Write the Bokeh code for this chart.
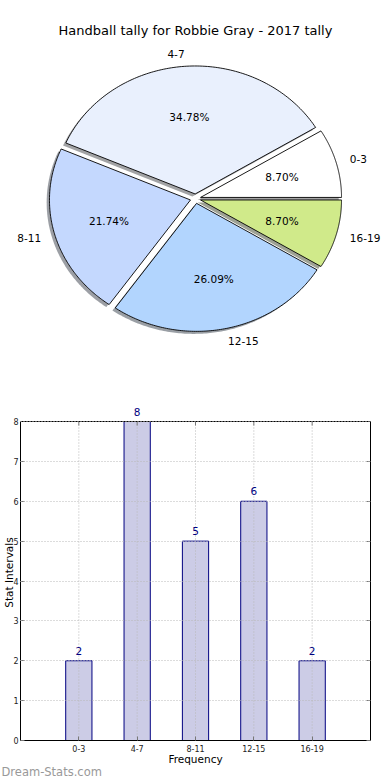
import numpy as np
from bokeh.plotting import figure
from bokeh.models import Range1d, Label, ColumnDataSource, FixedTicker, LinearAxis, Span, Title
from bokeh.embed import file_html
from bokeh.resources import INLINE
from bokeh.core.properties import value

# ---------------- data ----------------
chart_title = "Handball tally for Robbie Gray - 2017 tally"
categories = ["0-3", "4-7", "8-11", "12-15", "16-19"]
counts = [2, 8, 5, 6, 2]
slice_colors = ["#ffffff", "#e9f0fd", "#c4d8fe", "#b2d5fe", "#d0ea8a"]
x_label = "Frequency"
y_label = "Stat Intervals"
watermark = "Dream-Stats.com"
y_ticks = list(range(0, 9))

FONT = "DejaVu Sans"

# ---------------- pie ----------------
W1, H1 = 390, 390
RX, RY = 141.0, 128.0          # px per unit radius (non-equal aspect -> ellipse)
CX, CY = 195.0, 198.2          # pie centre in canvas px from top-left
EXPLODE = 0.037
SHADOW = -0.02

pie = figure(width=W1, height=H1, output_backend="svg", toolbar_location=None,
             title=None, x_axis_type=None, y_axis_type=None,
             x_range=Range1d(-CX / RX, (W1 - CX) / RX),
             y_range=Range1d(-(H1 - CY) / RY, CY / RY),
             min_border=0)
pie.grid.visible = False
pie.outline_line_color = None

total = float(sum(counts))
fracs = np.array(counts, dtype=float) / total
ends = np.cumsum(fracs) * 2 * np.pi
starts = ends - fracs * 2 * np.pi
mids = (starts + ends) / 2

wx, wy, sx, sy, shadow_cols = [], [], [], [], []
for s, e, m, col in zip(starts, ends, mids, slice_colors):
    ox, oy = EXPLODE * np.cos(m), EXPLODE * np.sin(m)
    t = np.linspace(s, e, 120)
    px = np.concatenate([[ox], ox + np.cos(t)])
    py = np.concatenate([[oy], oy + np.sin(t)])
    wx.append(px.tolist())
    wy.append(py.tolist())
    sx.append((px + SHADOW).tolist())
    sy.append((py + SHADOW).tolist())
    h = col.lstrip("#")
    rgb = [int(h[i:i + 2], 16) for i in (0, 2, 4)]
    shadow_cols.append("#%02x%02x%02x" % tuple(int(0.3 * c) for c in rgb))

pie.patches(xs=sx, ys=sy, fill_color=shadow_cols, fill_alpha=0.5, line_color=None)
pie.patches(xs=wx, ys=wy, fill_color=slice_colors, line_color="black", line_width=0.9)

lab_x, lab_y, lab_align = [], [], []
pct_x, pct_y, pct_txt = [], [], []
for m, c in zip(mids, counts):
    ox, oy = EXPLODE * np.cos(m), EXPLODE * np.sin(m)
    lab_x.append(ox + 1.1 * np.cos(m))
    lab_y.append(oy + 1.1 * np.sin(m))
    lab_align.append("left" if np.cos(m) > 0 else "right")
    pct_x.append(ox + 0.6 * np.cos(m))
    pct_y.append(oy + 0.6 * np.sin(m))
    pct_txt.append("%.2f%%" % (100.0 * c / total))

lab_src = ColumnDataSource(dict(x=lab_x, y=lab_y, text=categories, align=lab_align))
pie.text(x="x", y="y", text="text", source=lab_src, text_align="align",
         text_baseline="middle", text_font=value(FONT), text_font_size="10.5px",
         text_color="black")
pct_src = ColumnDataSource(dict(x=pct_x, y=pct_y, text=pct_txt))
pie.text(x="x", y="y", text="text", source=pct_src, text_align="center",
         text_baseline="middle", text_font=value(FONT), text_font_size="10.5px",
         text_color="black")

pie.add_layout(Label(x=CX, y=H1 - 30, x_units="screen", y_units="screen",
                     text=chart_title, text_align="center", text_baseline="middle",
                     text_font=FONT, text_font_size="13px", text_color="black"))

# ---------------- bar ----------------
W2, H2 = 390, 390
TOP_BORDER = 14                     # frame extends above the y=max box line
BOX_TOP, BOX_BOTTOM = 31, 350       # canvas px of the drawn box (y=max and y=0)
y_max = max(y_ticks)
y_end = y_max * (BOX_BOTTOM - TOP_BORDER) / (BOX_BOTTOM - BOX_TOP)
px_per_unit = (BOX_BOTTOM - BOX_TOP) / y_max

positions = list(range(1, len(categories) + 1))
bar = figure(width=W2, height=H2, output_backend="svg", toolbar_location=None,
             title=None,
             x_range=Range1d(0, len(categories) + 1), y_range=Range1d(0, y_end),
             min_border_left=19, min_border_right=20, min_border_top=TOP_BORDER,
             min_border_bottom=40)
bar.outline_line_color = None

xticker = FixedTicker(ticks=positions)
yticker = FixedTicker(ticks=y_ticks)

src = ColumnDataSource(dict(x=positions, top=counts, label=[str(c) for c in counts]))
bar.vbar(x="x", top="top", width=0.45, source=src, fill_color="#ccccE6",
         line_color="#000080", line_width=1)

# vertical dotted grid (over bars), limited to the box
bar.segment(x0="x", y0=0, x1="x", y1=y_max, source=src, line_color="#b8b8b8",
            line_dash="1 2", line_width=1)

bar.text(x="x", y="top", text="label", source=src, y_offset=-6,
         text_align="center", text_baseline="bottom",
         text_font=value(FONT), text_font_size="10.5px", text_color="#000080")

xa = bar.xaxis[0]
ya = bar.yaxis[0]
xa.ticker = xticker
xa.major_label_overrides = {p: c for p, c in zip(positions, categories)}
ya.ticker = yticker
ya.bounds = (0, y_max)
for ax in (xa, ya):
    ax.major_tick_in = 4
    ax.major_tick_out = 0
    ax.minor_tick_in = 0
    ax.minor_tick_out = 0
    ax.major_tick_line_color = "#777777"
    ax.axis_line_color = "black"
    ax.major_label_text_font = FONT
    ax.major_label_text_font_size = "8px"
    ax.major_label_text_color = "#222222"
xa.major_label_standoff = 4
ya.major_label_standoff = 2
xa.axis_label = x_label
xa.axis_label_text_font = FONT
xa.axis_label_text_font_size = "10.5px"
xa.axis_label_text_font_style = "normal"
xa.axis_label_text_color = "black"
xa.axis_label_standoff = -2
ya.axis_label = y_label
ya.axis_label_text_font = FONT
ya.axis_label_text_font_size = "10.5px"
ya.axis_label_text_font_style = "normal"
ya.axis_label_text_color = "black"
ya.axis_label_standoff = -5

right_ax = LinearAxis(ticker=yticker, bounds=(0, y_max), major_tick_in=4, major_tick_out=0,
                      minor_tick_in=0, minor_tick_out=0,
                      major_tick_line_color="#777777", axis_line_color="black",
                      major_label_text_font_size="0px", major_label_text_alpha=0,
                      major_label_standoff=0)
bar.add_layout(right_ax, "right")

# top box line and inward ticks at y = max
bar.add_layout(Span(location=y_max, dimension="width", line_color="black", line_width=1))
tick_len = 4.0 / px_per_unit
bar.segment(x0="x", y0=y_max, x1="x", y1=y_max - tick_len, source=src,
            line_color="#777777", line_width=1)

bar.xgrid.visible = False
bar.ygrid.ticker = yticker
g = bar.ygrid[0]
g.grid_line_color = "#b8b8b8"
g.grid_line_dash = "1 2"
g.grid_line_width = 1
g.level = "overlay"

bar.add_layout(Title(text=watermark, align="left", offset=-19, standoff=-9,
                     text_font=FONT, text_font_size="11.5px", text_font_style="normal",
                     text_color="#999999"), "below")

open("out.html", "w").write(file_html([pie, bar], INLINE))
